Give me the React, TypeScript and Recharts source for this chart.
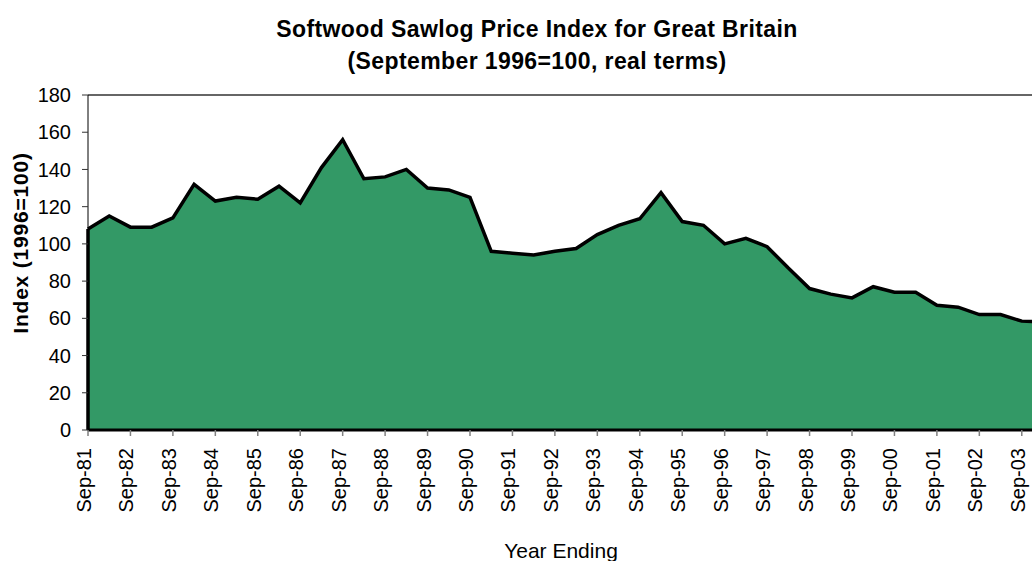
import React from 'react';
import { AreaChart, Area, XAxis, YAxis, ReferenceLine, Label } from 'recharts';

const categories = [
  'Sep-81', 'Mar-82', 'Sep-82', 'Mar-83', 'Sep-83', 'Mar-84', 'Sep-84', 'Mar-85',
  'Sep-85', 'Mar-86', 'Sep-86', 'Mar-87', 'Sep-87', 'Mar-88', 'Sep-88', 'Mar-89',
  'Sep-89', 'Mar-90', 'Sep-90', 'Mar-91', 'Sep-91', 'Mar-92', 'Sep-92', 'Mar-93',
  'Sep-93', 'Mar-94', 'Sep-94', 'Mar-95', 'Sep-95', 'Mar-96', 'Sep-96', 'Mar-97',
  'Sep-97', 'Mar-98', 'Sep-98', 'Mar-99', 'Sep-99', 'Mar-00', 'Sep-00', 'Mar-01',
  'Sep-01', 'Mar-02', 'Sep-02', 'Mar-03', 'Sep-03', 'Mar-04',
];

const indexValues = [
  108, 115, 109, 109, 114, 132, 123, 125,
  124, 131, 122, 141, 156, 135, 136, 140,
  130, 129, 125, 96, 95, 94, 96, 97.5,
  105, 110, 113.5, 127.5, 112, 110, 100, 103,
  98.5, 87, 76, 73, 71, 77, 74, 74,
  67, 66, 62, 62, 58.5, 58,
];

const yTicks = [0, 20, 40, 60, 80, 100, 120, 140, 160, 180];

const titleLines = [
  'Softwood Sawlog Price Index for Great Britain',
  '(September 1996=100, real terms)',
];
const xAxisTitle = 'Year Ending';
const yAxisTitle = 'Index (1996=100)';

const data = categories.map((c, i) => ({ period: c, index: indexValues[i] }));

const FONT = '"Liberation Sans", Arial, sans-serif';

function XTick(props: any) {
  const { x, y, payload } = props;
  return (
    <text
      x={x}
      y={y}
      dy={3}
      transform={`rotate(-90, ${x}, ${y})`}
      textAnchor="end"
      fontSize={20}
      fontFamily={FONT}
      fill="#000"
    >
      {payload.value}
    </text>
  );
}

export default function App() {
  return (
    <div
      style={{
        position: 'absolute',
        left: 0,
        top: 0,
        width: 1032,
        height: 561,
        overflow: 'hidden',
        background: '#fff',
      }}
    >
      <svg
        width={1032}
        height={90}
        style={{ position: 'absolute', left: 0, top: 0 }}
      >
        {titleLines.map((t, i) => (
          <text
            key={i}
            x={537}
            y={36.7 + i * 32.6}
            textAnchor="middle"
            fontSize={23}
            fontWeight="bold"
            fontFamily={FONT}
            letterSpacing={0.4}
            fill="#000"
          >
            {t}
          </text>
        ))}
      </svg>
      <div style={{ position: 'absolute', left: 0, top: 0 }}>
        <AreaChart
          width={1060}
          height={561}
          data={data}
          margin={{ top: 95, right: 17, left: 0, bottom: 0 }}
        >
          <Area
            type="linear"
            dataKey="index"
            stroke="#000"
            strokeWidth={3.5}
            fill="#339966"
            fillOpacity={1}
            dot={false}
            activeDot={false}
            isAnimationActive={false}
          />
          <ReferenceLine y={180} stroke="#666" strokeWidth={2} />
          <ReferenceLine
            segment={[
              { x: categories[0], y: 0 },
              { x: categories[0], y: indexValues[0] },
            ]}
            stroke="#000"
            strokeWidth={3.5}
          />
          <XAxis
            dataKey="period"
            scale="point"
            padding={{ left: 0, right: 0 }}
            interval={1}
            height={131}
            tickSize={6}
            tickMargin={12}
            tick={<XTick />}
            axisLine={{ stroke: '#000', strokeWidth: 3 }}
            tickLine={{ stroke: '#808080', strokeWidth: 1.5 }}
          >
            <Label
              content={() => (
                <text
                  x={561}
                  y={558}
                  textAnchor="middle"
                  fontSize={21}
                  fontFamily={FONT}
                  fill="#000"
                >
                  {xAxisTitle}
                </text>
              )}
            />
          </XAxis>
          <YAxis
            width={88}
            domain={[0, 180]}
            ticks={yTicks}
            interval={0}
            tickSize={6}
            tickMargin={11}
            tick={{ fontSize: 20, fontFamily: FONT, fill: '#000' }}
            axisLine={{ stroke: '#000', strokeWidth: 1 }}
            tickLine={{ stroke: '#333', strokeWidth: 1 }}
          >
            <Label
              content={() => (
                <text
                  x={28}
                  y={243}
                  transform="rotate(-90, 28, 243)"
                  textAnchor="middle"
                  fontSize={21}
                  fontWeight="bold"
                  fontFamily={FONT}
                  letterSpacing={0.8}
                  fill="#000"
                >
                  {yAxisTitle}
                </text>
              )}
            />
          </YAxis>
        </AreaChart>
      </div>
    </div>
  );
}
